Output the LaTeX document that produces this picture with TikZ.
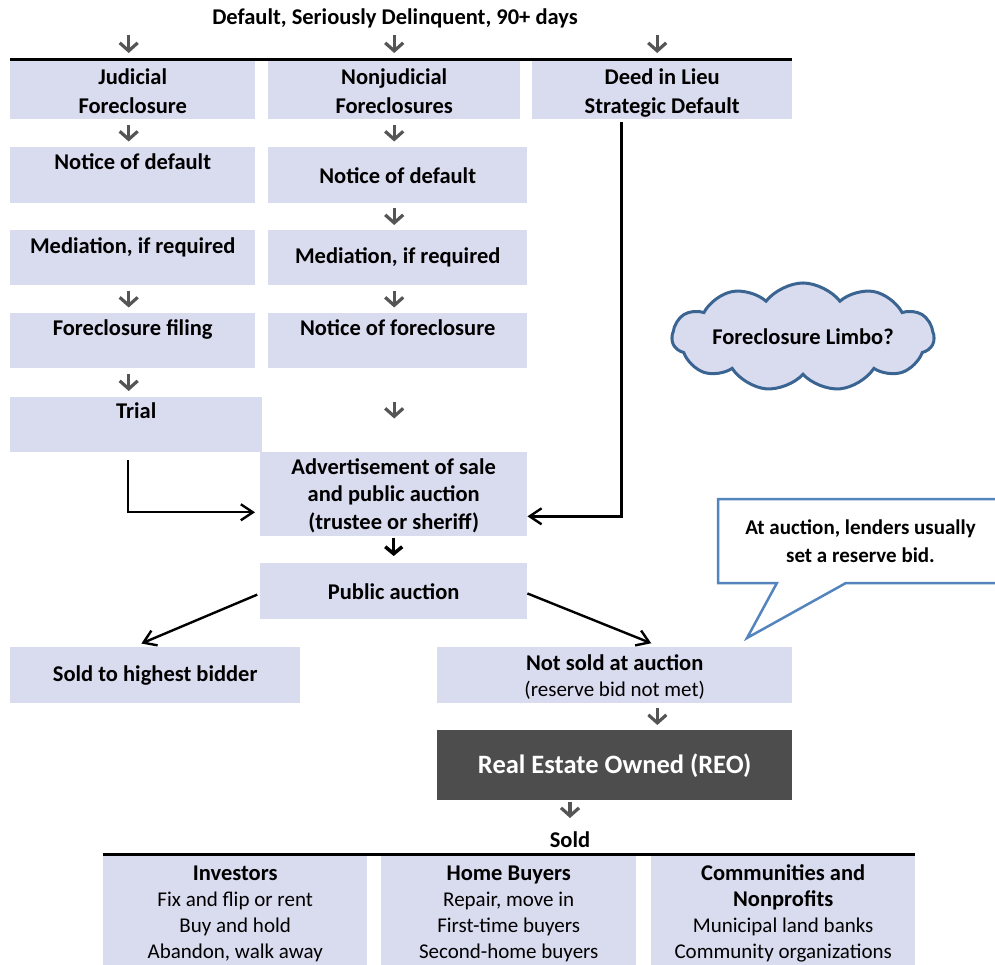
\documentclass[tikz,border=0pt]{standalone}
\usepackage{fontspec}
\setmainfont{Carlito}
\usetikzlibrary{arrows.meta,calc,shapes.symbols,shapes.callouts}
\definecolor{boxfill}{RGB}{217,219,238}
\definecolor{agray}{RGB}{85,85,85}
\definecolor{reofill}{RGB}{77,77,77}
\definecolor{cloudline}{RGB}{58,100,146}
\definecolor{callline}{RGB}{84,132,190}
\newcommand{\myhd}[1]{{\bfseries\fontsize{22.5}{26}\selectfont #1}}
\newcommand{\mytab}[1]{\begin{tabular}[t]{@{}c@{}}#1\end{tabular}}
\begin{document}
\begin{tikzpicture}[x=1pt,y=-1pt,
  cbox/.style={fill=boxfill, inner sep=0pt, anchor=north west, align=center,
    font=\bfseries\fontsize{22.5}{29}\selectfont},
  tbox/.style={fill=boxfill, inner sep=0pt, anchor=north west,
    font=\bfseries\fontsize{22.5}{29}\selectfont},
  bbox/.style={fill=boxfill, inner sep=0pt, anchor=north west,
    text height=24pt, text depth=100pt, font=\fontsize{21}{26}\selectfont},
  lbl/.style={inner sep=0pt, anchor=base, font=\bfseries\fontsize{22.5}{29}\selectfont},
  sarrow/.style={draw=agray, line width=3.2pt, -{Straight Barb[length=8pt,width=18pt]}},
  barrow/.style={draw=black, line width=2.4pt, -{Straight Barb[length=12pt,width=16pt]}},
  karrow/.style={draw=black, line width=3.5pt, -{Straight Barb[length=7pt,width=17pt]}},
  sh/.style={shorten <=#1, shorten >=#1},
  rule/.style={draw=black, line width=3pt}
]
\useasboundingbox (0,0) rectangle (995,965);
\clip (0,0) rectangle (995,965);

% title
\node[lbl] (title) at (395,25) {Default, Seriously Delinquent, 90+ days};

% row 1
\node[tbox, minimum width=245pt, text height=23pt, text depth=35pt] (jf) at (10,61) {\mytab{Judicial\\Foreclosure}};
\node[tbox, minimum width=252pt, text height=23pt, text depth=35pt] (nj) at (268,61) {\mytab{Nonjudicial\\Foreclosures}};
\node[tbox, minimum width=260pt, text height=23pt, text depth=35pt] (deed) at (532,61) {\mytab{Deed in Lieu\\Strategic Default}};
\draw[rule] ([yshift=1.5pt]jf.north west) -- ([yshift=1.5pt]deed.north east);

% column 1
\node[tbox, minimum width=245pt, text height=22pt, text depth=34pt] (nd1) at (10,147) {Notice of default};
\node[tbox, minimum width=245pt, text height=23pt, text depth=32pt] (med1) at (10,230) {Mediation, if required};
\node[tbox, minimum width=245pt, text height=22pt, text depth=33pt] (ff) at (10,313) {Foreclosure filing};
\node[tbox, minimum width=252pt, text height=21pt, text depth=34pt] (trial) at (10,397) {Trial};

% column 2
\node[cbox, minimum width=259pt, minimum height=56pt] (nd2) at (268,147) {Notice of default};
\node[cbox, minimum width=259pt, minimum height=55pt] (med2) at (268,230) {Mediation, if required};
\node[tbox, minimum width=259pt, text height=22pt, text depth=33pt] (nf) at (268,313) {Notice of foreclosure};
\node[tbox, minimum width=267pt, text height=22pt, text depth=62pt, font=\bfseries\fontsize{22.5}{27.5}\selectfont] (adv) at (260,452) {\mytab{Advertisement of sale\\and public auction\\(trustee or sheriff)}};
\node[cbox, minimum width=267pt, minimum height=56pt] (pa) at (260,563) {Public auction};

% outcomes
\node[cbox, minimum width=290pt, minimum height=56pt] (sold) at (10,647) {Sold to highest bidder};
\node[tbox, minimum width=355pt, text height=23pt, text depth=33pt, font=\bfseries\fontsize{22.5}{26}\selectfont] (notsold) at (437,647) {\mytab{Not sold at auction\\{\mdseries\fontsize{21}{26}\selectfont(reserve bid not met)}}};
\node[fill=reofill, text=white, inner sep=0pt, anchor=north west, minimum width=355pt, minimum height=70pt,
  font=\bfseries\fontsize{26.5}{32}\selectfont] (reo) at (437,730) {Real Estate Owned (REO)};
\node[lbl] (soldlbl) at (570,847) {Sold};

% bottom boxes
\node[bbox, minimum width=264pt] (inv) at (103,856) {\mytab{\myhd{Investors}\\Fix and flip or rent\\Buy and hold\\Abandon, walk away}};
\node[bbox, minimum width=255pt] (hb) at (381,856) {\mytab{\myhd{Home Buyers}\\Repair, move in\\First-time buyers\\Second-home buyers}};
\node[bbox, minimum width=264pt] (comm) at (651,856) {\mytab{\myhd{Communities and}\\\myhd{Nonprofits}\\Municipal land banks\\Community organizations}};
\draw[rule] ([yshift=1.5pt]inv.north west) -- ([yshift=1.5pt]comm.north east);

% cloud and callout
\node[cloud, cloud puffs=11, cloud puff arc=105, aspect=3.4, draw=cloudline, line width=3pt, fill=boxfill,
  minimum width=262pt, minimum height=100pt, inner sep=0pt,
  font=\bfseries\fontsize{22.5}{29}\selectfont] (limbo) at (803,337) {Foreclosure Limbo?};
\node[rectangle callout, draw=callline, line width=2.5pt, fill=white, minimum width=285pt, minimum height=84pt,
  callout absolute pointer={(747,638)}, callout pointer width=69pt, align=center,
  font=\bfseries\fontsize{21}{28}\selectfont] (note) at (860.5,541) {At auction, lenders usually\\set a reserve bid.};

% small gray arrows
\draw[sarrow, shorten <=6.5pt, shorten >=8pt] ($(title.south -| jf.north)+(-4,0)$) -- ($(jf.north)+(-4,0)$);
\draw[sarrow, shorten <=6.5pt, shorten >=8pt] (title.south -| nj.north) -- (nj.north);
\draw[sarrow, shorten <=6.5pt, shorten >=8pt] ($(title.south -| deed.north)+(-5,0)$) -- ($(deed.north)+(-5,0)$);
\draw[sarrow, sh=5.5pt] ($(jf.south)+(-4,0)$) -- ($(nd1.north)+(-4,0)$);
\draw[sarrow, sh=5.5pt] (nj.south) -- (nj.south |- nd2.north);
\draw[sarrow, sh=5pt] (nj.south |- nd2.south) -- (nj.south |- med2.north);
\draw[sarrow, sh=5.5pt] ($(med1.south)+(-4,0)$) -- ($(ff.north)+(-4,0)$);
\draw[sarrow, sh=5.5pt] (nj.south |- med2.south) -- (nj.south |- nf.north);
\draw[sarrow, sh=6pt] ($(ff.south)+(-4,0)$) -- ($(ff.south |- trial.north)+(-4,0)$);
\draw[sarrow, sh=33.5pt] (nj.south |- nf.south) -- (nj.south |- adv.north);
\draw[sarrow, sh=5pt] ($(notsold.south west)!0.62!(notsold.south east)$) -- ($(reo.north west)!0.62!(reo.north east)$);
\draw[sarrow, shorten <=2pt, shorten >=13pt] (reo.south -| soldlbl.north) -- (soldlbl.north);

% black connectors
\draw[barrow, shorten <=8pt, shorten >=5pt] ($(trial.south)+(-8,0)$) |- ($(adv.south west)!0.286!(adv.north west)$);
\draw[barrow, shorten <=3pt] ($(deed.south west)!0.344!(deed.south east)$) |- ($(adv.south east)!0.238!(adv.north east)$);
\draw[karrow, shorten <=2pt, shorten >=7pt] (adv.south) -- (pa.north);
\draw[barrow, shorten <=3pt, shorten >=9pt] ($(pa.south west)!0.46!(pa.north west)$) -- ($(sold.north west)!0.424!(sold.north east)$);
\draw[barrow, shorten <=0pt, shorten >=10pt] ($(pa.south east)!0.46!(pa.north east)$) -- ($(notsold.north west)!0.629!(notsold.north east)$);
\end{tikzpicture}
\end{document}
